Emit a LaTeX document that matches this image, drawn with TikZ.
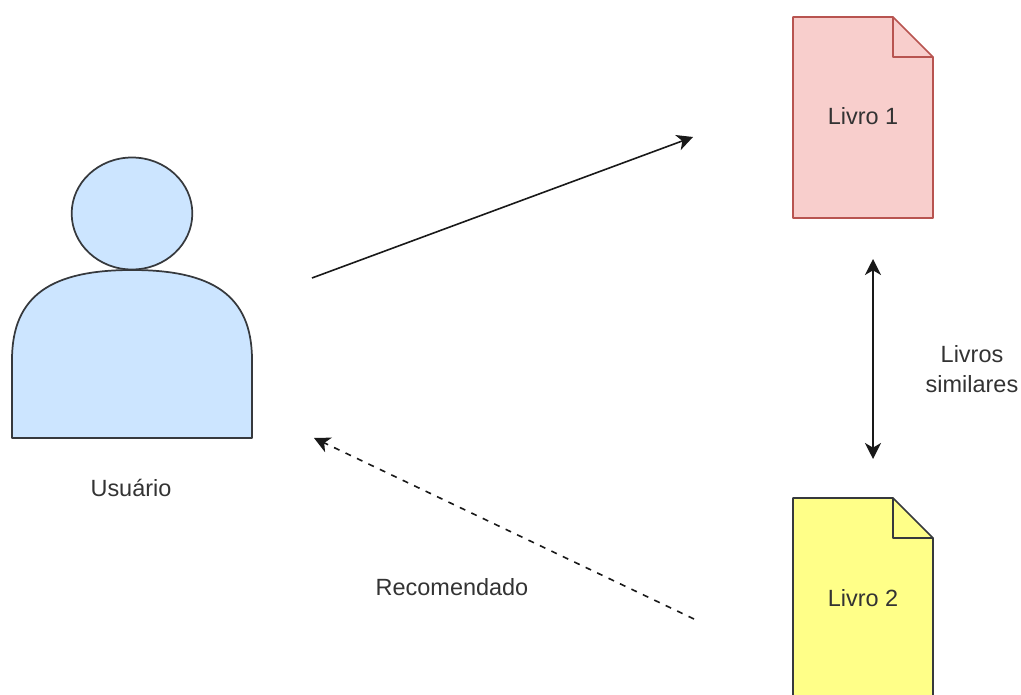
\documentclass[tikz,border=0pt]{standalone}
\usepackage{fontspec}
\usepackage{xcolor}
\usetikzlibrary{arrows.meta,shapes.geometric}
\setmainfont{Liberation Sans}

\definecolor{userfill}{HTML}{CCE5FF}
\definecolor{darkline}{HTML}{36393D}
\definecolor{redfill}{HTML}{F8CECC}
\definecolor{redline}{HTML}{B85450}
\definecolor{yellowfill}{HTML}{FFFF88}

\tikzset{
	shapeline/.style={line width=1.3pt,line join=round},
	flow/.style={line width=1.2pt,black!90,-{Stealth[length=12pt,width=12pt,inset=3.5pt]}},
	label/.style={text=black!80,font=\fontsize{17.6}{22.5}\selectfont,align=center,inner sep=0pt},
}

\begin{document}
\begin{tikzpicture}[x=0.75pt,y=-0.75pt]
		\useasboundingbox (0,0) rectangle (1021,695);

		% user
		\filldraw[shapeline,fill=userfill,draw=darkline] (12,438) -- (12,360) .. controls (12,295) and (52,270) .. (132,270) .. controls (212,270) and (252,295) .. (252,360) -- (252,438) -- cycle;
		\node[shapeline,fill=userfill,draw=darkline,ellipse,minimum width=90.5pt,minimum height=84pt,inner sep=0pt] (head) at (132,213.5) {};
		\node[label] (user) at (131,488) {Usuário};

		% book 1
		\filldraw[shapeline,fill=redfill,draw=redline] (793,17) -- (893,17) -- (933,57) -- (933,218) -- (793,218) -- cycle;
		\draw[shapeline,draw=redline] (893,17) -- (893,57) -- (933,57);
		\node[label] (book1) at (863,116) {Livro 1};

		% book 2
		\filldraw[shapeline,fill=yellowfill,draw=darkline] (793,498) -- (893,498) -- (933,538) -- (933,699) -- (793,699) -- cycle;
		\draw[shapeline,draw=darkline] (893,498) -- (893,538) -- (933,538);
		\node[label] (book2) at (863,598) {Livro 2};

		\node[label] (similar) at (972,369) {Livros\\similares};
		\node[label] (recommended) at (452,587) {Recomendado};

		\coordinate (userout) at (312,278);
		\coordinate (bookin) at (693,137);
		\coordinate (simtop) at (873,259);
		\coordinate (simbottom) at (873,459);
		\coordinate (recfrom) at (694,619);
		\coordinate (recto) at (314,438);

		\draw[flow] (userout) -- (bookin);
		\draw[flow,{Stealth[length=12pt,width=12pt,inset=3.5pt]}-{Stealth[length=12pt,width=12pt,inset=3.5pt]}] (simbottom) -- (simtop);
		\draw[flow,dash pattern=on 4.5pt off 5pt] (recfrom) -- (recto);
\end{tikzpicture}
\end{document}
